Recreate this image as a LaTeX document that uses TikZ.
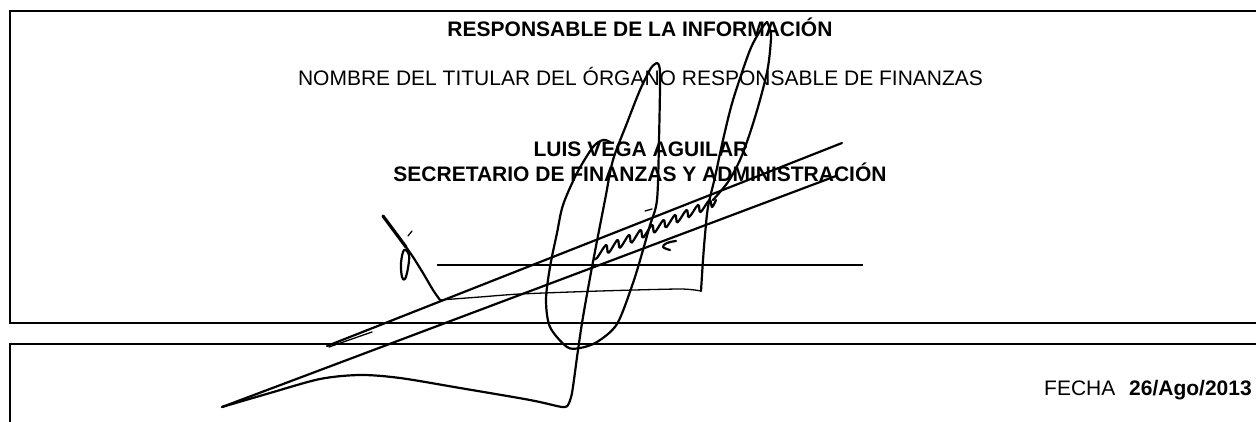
\documentclass[tikz,border=0pt]{standalone}
\usepackage{fontspec}
\setmainfont{Liberation Sans}
\begin{document}
\begin{tikzpicture}[x=1pt,y=-1pt,
  frame/.style={line width=2.6pt},
  pen/.style={line width=2.2pt, line cap=round, line join=round},
  thinpen/.style={line width=1.3pt, line cap=round, line join=round},
  txt/.style={anchor=base, inner sep=0pt, font=\fontsize{21}{25}\selectfont},
  txtb/.style={anchor=base, inner sep=0pt, font=\fontsize{21}{25}\selectfont\bfseries}]
\useasboundingbox (0,0) rectangle (1256,422);
\clip (0,0) rectangle (1256,422);
% boxes
\draw[frame] (1270,11) -- (10,11) -- (10,323) -- (1270,323);
\draw[frame] (1270,344) -- (10,344) -- (10,440);
% texts
\node[txtb] (title) at (640,37) {RESPONSABLE DE LA INFORMACIÓN};
\node[txt] (nombre) at (640.5,86) {NOMBRE DEL TITULAR DEL ÓRGANO RESPONSABLE DE FINANZAS};
\node[txtb] (name) at (641,157) {LUIS VEGA AGUILAR};
\node[txtb] (cargo) at (640,182) {SECRETARIO DE FINANZAS Y ADMINISTRACIÓN};
\node[txt, anchor=base west] (fecha) at (1044,395) {FECHA};
\node[txtb, anchor=base west] (date) at (1129,395) {26/Ago/2013};
% signature line
\coordinate (sl) at (437,265);
\coordinate (sr) at (863,265);
\draw[frame] (sl) -- (sr);
% ---- signature ----
% long diagonals
\draw[pen] (327,346) -- (842,143);
\draw[thinpen] (329,347) -- (372,332);
\draw[pen] (836,176) -- (222,407);
% lower flourish, up-stroke, big loop
\draw[pen] plot[smooth, tension=0.5] coordinates {(222,407) (270,393) (320,379) (360,375) (400,378) (460,388) (530,400) (562,407) (568,405)};
\draw[pen] plot[smooth, tension=0.5] coordinates {(568,405) (572,393) (578,350) (583,317) (592,267) (605,200) (613,160) (627,123) (640,90) (651,68) (657,63)};
\draw[pen] plot[smooth, tension=0.5] coordinates {(657,63) (660,73) (659,140) (657,200) (650,225) (643,250) (633,283) (617,324) (597,342) (580,348) (567,347) (550,327) (546,300) (550,267) (557,233) (563,205) (577,173) (593,147) (603,140) (610,142)};
% left flourish
\draw[line width=3.2pt, line cap=round] (383,216) -- (406,247);
\draw[pen] plot[smooth, tension=0.5] coordinates {(406,247) (413,257) (423,273) (433,290) (440,300)};
\draw[pen] plot[smooth cycle, tension=0.6] coordinates {(404,250) (401,263) (402,277) (405,279) (408,268) (409,255)};
\draw[thinpen] (408,236) -- (412,231);
% thin connecting line and right loop
\draw[thinpen] plot[smooth, tension=0.4] coordinates {(440,300) (480,297) (520,294) (600,291) (680,289) (701,291)};
\draw[pen] plot[smooth, tension=0.5] coordinates {(701,291) (703,260) (705,235) (708,207) (715,177) (723,140) (733,100) (750,50) (762,28) (767,22)};
\draw[pen] plot[smooth, tension=0.5] coordinates {(767,22) (771,35) (768,67) (760,100) (750,133) (740,160) (728,182) (713,200)};
% cursive scribble
\draw[pen] plot[smooth, tension=0.6] coordinates {(594,259) (597,258) (606,245) (608.5,252.9) (617.5,240) (620,247.8) (629,235) (631.5,242.7) (640.5,230) (643,237.6) (652,225) (654.5,232.5) (663.5,220) (666,227.4) (675,215) (677.5,222.3) (686.5,210) (689,217.2) (698,205) (700.5,212.1) (709.5,200) (712,207) (716,200)};
\draw[thinpen] (645,211) -- (652,209);
\draw[pen] plot[smooth, tension=0.7] coordinates {(676,241) (667,243) (663,247) (670,250)};
\end{tikzpicture}
\end{document}
